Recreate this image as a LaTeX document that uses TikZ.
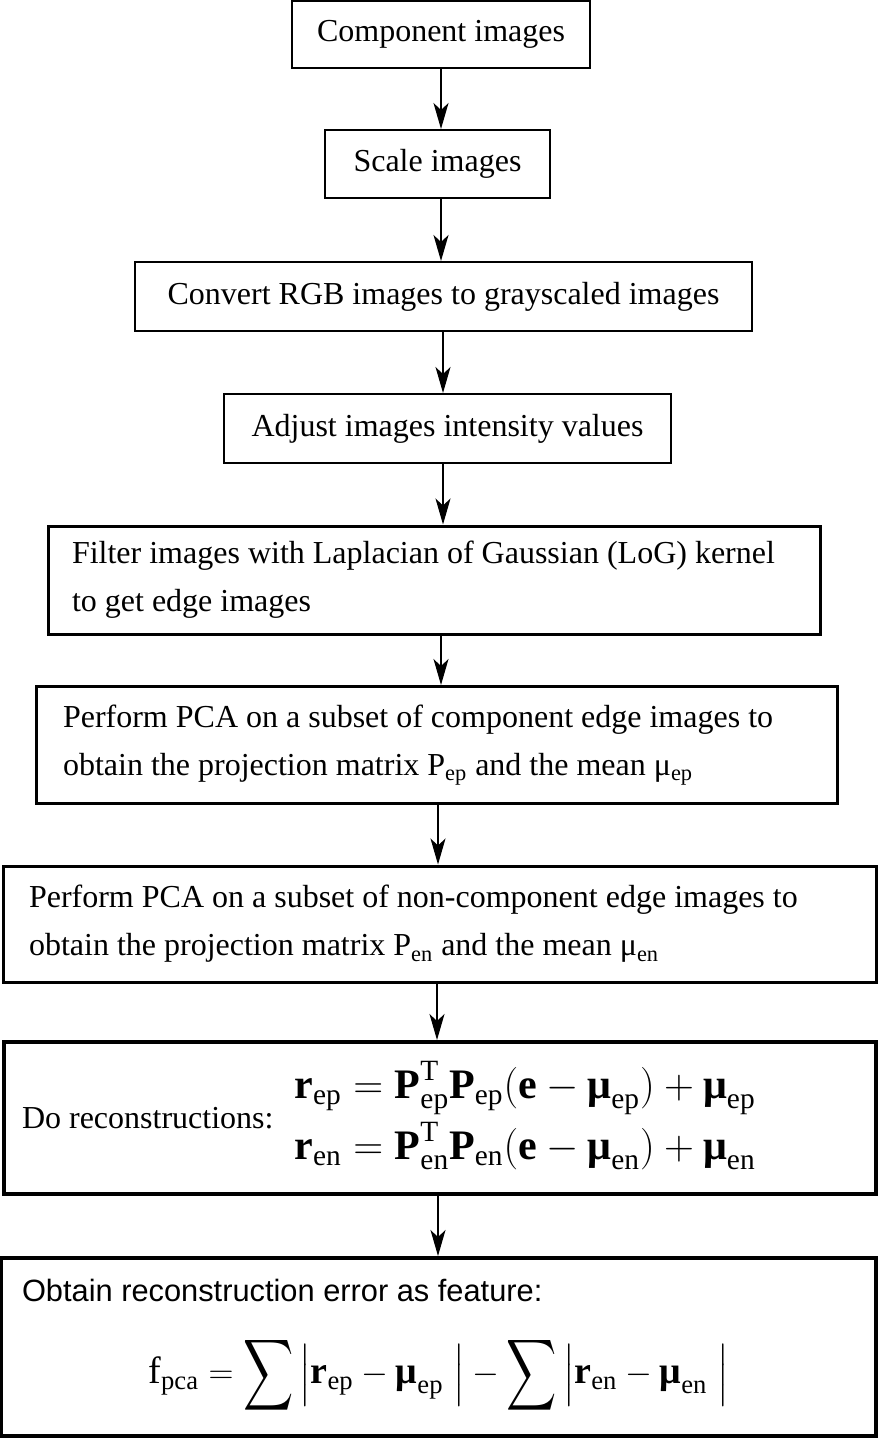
\documentclass[tikz,border=0pt]{standalone}
\usepackage{amsmath}
\usepackage{graphicx}
\usepackage{fontspec}
\setmainfont{Liberation Serif}
\newfontfamily\labelsans{Liberation Sans}
\usetikzlibrary{arrows.meta}
\newcommand{\bmu}{\mbox{\bfseries μ}}
\newcommand{\bigsum}{\mathop{\vcenter{\hbox{\fontsize{24}{24}\selectfont\scalebox{0.7}[1]{$\displaystyle\sum$}}}}}
\tikzset{
    stepbox/.style = {rectangle,
                    fill=white,
                    draw=black,
                    text=black,
                    line width=1pt,
                    font=\fontsize{16}{24}\selectfont,
                    inner sep=0pt},
    textbox/.style = {stepbox,
                    line width=1.5pt,
                    align=flush left},
    mathbox/.style = {textbox,
                    line width=2pt},
    flow/.style    = {-{Stealth[length=13pt,width=7.5pt,inset=3.5pt]},
                    line width=0.6pt},
    -,
    every edge/.style={draw}}

\begin{document}
\begin{tikzpicture}[x=0.5pt,y=-0.5pt]
    \useasboundingbox (0,0) rectangle (878,1438);
    \node[stepbox, minimum width=149pt, minimum height=33.5pt]   (comp)    at (441,34.5)  {Component images};
    \node[stepbox, minimum width=112.5pt, minimum height=34pt]   (scale)   at (437.5,164) {Scale images};
    \node[stepbox, minimum width=308.5pt, minimum height=34.5pt] (convert) at (443.5,296.5) {Convert RGB images to grayscaled images};
    \node[stepbox, minimum width=223.5pt, minimum height=34.5pt] (adjust)  at (447.5,428.5) {Adjust images intensity values};
    \node[textbox, text width=362pt, inner xsep=12pt, minimum height=54pt] (filter) at (434,580)
        {Filter images with Laplacian of Gaussian (LoG) kernel\\to get edge images};
    \node[textbox, text width=373.5pt, inner xsep=13.5pt, minimum height=58.5pt] (pcacomp) at (436.5,745)
        {Perform PCA on a subset of component edge images to\\obtain the projection matrix P\textsubscript{ep} and the mean μ\textsubscript{ep}};
    \node[textbox, text width=410.5pt, inner xsep=13pt, minimum height=58pt] (pcanon) at (439.5,924)
        {Perform PCA on a subset of non-component edge images to\\obtain the projection matrix P\textsubscript{en} and the mean μ\textsubscript{en}};
    \node[mathbox, text width=418pt, inner xsep=9pt, minimum height=76pt] (recon) at (440,1118)
        {Do reconstructions:\hspace{10.5pt}{\fontsize{21}{25.5}\selectfont$\begin{aligned}
            \mathbf{r}_{\mathrm{ep}} &= \mathbf{P}_{\mathrm{ep}}^{\mathrm{T}}\mathbf{P}_{\mathrm{ep}}(\mathbf{e}-\bmu_{\mathrm{ep}})+\bmu_{\mathrm{ep}}\\
            \mathbf{r}_{\mathrm{en}} &= \mathbf{P}_{\mathrm{en}}^{\mathrm{T}}\mathbf{P}_{\mathrm{en}}(\mathbf{e}-\bmu_{\mathrm{en}})+\bmu_{\mathrm{en}}
        \end{aligned}$}};
    \node[mathbox, text width=416.5pt, inner xsep=10.5pt, minimum height=89pt] (obtain) at (438.5,1347)
        {{\labelsans\fontsize{15.4}{18}\selectfont Obtain reconstruction error as feature:}\\[16pt]
         \makebox[\hsize][c]{\fontsize{19}{19}\selectfont$\displaystyle
            \mathrm{f}_{\mathrm{pca}} = \bigsum\,\Bigl|\mathbf{r}_{\mathrm{ep}}-\bmu_{\mathrm{ep}}\;\Bigr| - \bigsum\,\Bigl|\mathbf{r}_{\mathrm{en}}-\bmu_{\mathrm{en}}\;\Bigr|$}};
    \path [flow]    (comp.south -| 441,0)    edge [line width=1pt] (scale.north -| 441,0)
                    (scale.south -| 441,0)   edge [line width=1pt] (convert.north -| 441,0)
                    (convert.south -| 443,0) edge (adjust.north -| 443,0)
                    (adjust.south -| 443,0)  edge (filter.north -| 443,0)
                    (filter.south -| 441,0)  edge (pcacomp.north -| 441,0)
                    (pcacomp.south -| 438,0) edge (pcanon.north -| 438,0)
                    (pcanon.south -| 437,0)  edge (recon.north -| 437,0)
                    (recon.south -| 438,0)   edge (obtain.north -| 438,0);
\end{tikzpicture}
\end{document}
